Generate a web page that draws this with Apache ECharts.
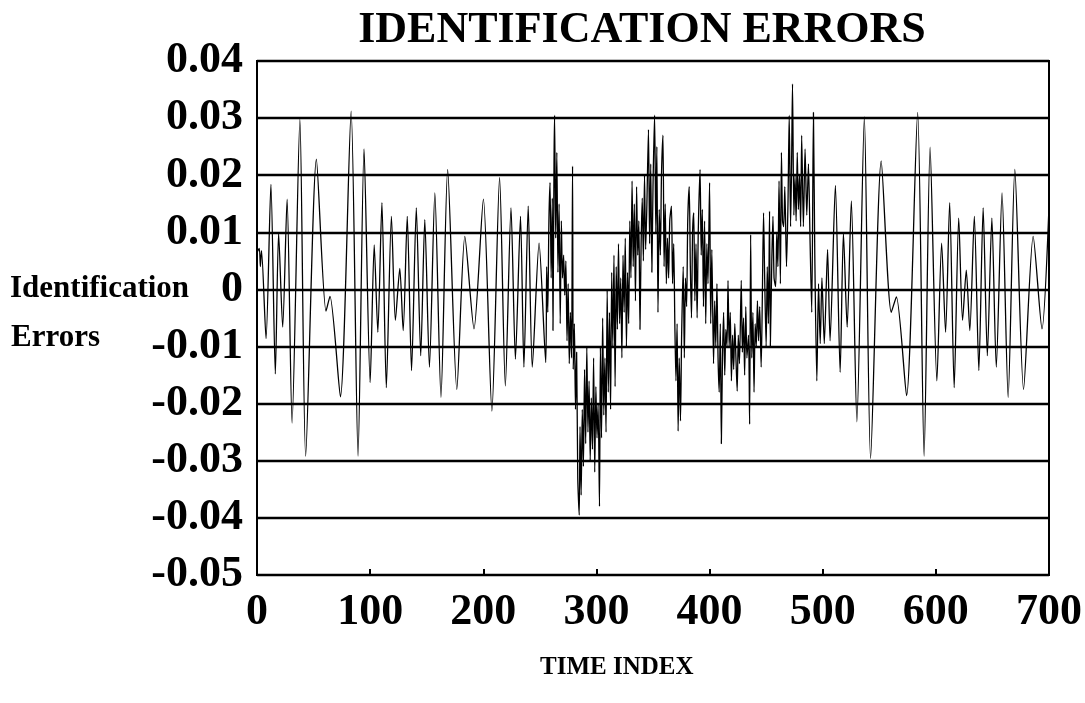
<!DOCTYPE html>
<html>
<head>
<meta charset="utf-8">
<script src="https://cdn.jsdelivr.net/npm/echarts@6/dist/echarts.min.js"></script>
<style>
  html, body { margin: 0; padding: 0; background: #fff; }
  #chart { width: 1085px; height: 703px; }
</style>
</head>
<body>
<div id="chart"></div>
<script>
// Time index of each sample (peaks, troughs and turning points of the error trace)
const timeIndex = [
  0, 2, 3, 4, 8, 12.3, 16.2, 19.1, 22.7, 26.6, 31, 37.9, 43, 52.5, 61, 64.5, 73.7, 83.2, 89.3, 94.6,
  100, 103.6, 106.8, 110.4, 114.3, 118.8, 122.3, 126.2, 129.2, 132.8, 136.6, 140.8, 144.7, 148.3, 152.4, 157.2, 162.6, 168.5, 176.6, 183.7,
  191.8, 200.1, 207.6, 214.4, 219.5, 224.5, 228.4, 232.9, 235.9, 239.7, 243.3, 249.3, 255.2,
  256, 257, 258, 259, 260, 261, 261.6, 262.5, 263, 264, 265, 266, 267, 268, 269, 270, 271, 272, 273, 274, 275, 276, 277, 278, 278.9, 279.5,
  280.5, 281.5, 282.5, 283.5, 284.8, 285.5, 286.5, 287.5, 288.5, 289.5, 290.5, 291.5, 292.5, 293.5, 294.5, 295.5, 296.5, 297.5, 298.5, 299.5,
  300.5, 301.5, 302.7, 303.5, 304.5, 305.5, 306.5, 307.5, 308.5, 309.5, 310.5, 311.5, 312.5, 313.5, 314.5, 315.5, 316.5, 317.5, 318.5, 319.5,
  320.5, 321.5, 322.5, 323.5, 324.5, 325.5, 326.5, 327.5, 328.5, 329.5, 330.5, 331.5, 332.5, 333.5, 334.5, 335.5, 336.5, 337.5, 338.5, 339.5,
  340.5, 341.5, 342.5, 343.5, 344.5, 346, 347, 348, 349, 350, 351.4, 352.5, 353.4, 354.4, 355.5, 356.5, 357.5, 358.8, 359.8, 360.8,
  361.8, 362.8, 363.8, 364.8, 366.3, 367.3, 368.3, 369.3, 370.3, 371.3, 372.2, 373.2, 374.3, 375.3, 376.7, 377.7, 378.7, 379.7, 380.7, 382,
  383, 384, 385, 386, 387, 388, 389, 390, 391.6, 392.6, 393.6, 394.6, 395.6, 396.6, 397.6, 398.6, 400, 401, 402, 403.5,
  404.5, 405.5, 406.5, 407.5, 408.5, 409.5, 410.4, 411.4, 412.4, 413.4, 414.4, 415.4, 416.3, 417.3, 418.3, 419.3, 420.3, 421.3, 422.3, 423.3,
  424.4, 425.4, 426.4, 428, 429, 430, 431, 432, 433, 434.4, 435.4, 436.3, 437.3, 438.3, 439.3, 440.3, 441.3, 442.3, 443.3, 444.3,
  445.6, 446.6, 447.7, 448.7, 450, 451, 452, 453, 453.7, 455, 456, 457, 458.4, 459.4, 460.4, 461.4, 462.6, 463.5, 464.5, 465.5,
  466.5, 468, 469.3, 470.4, 471.6, 472.5, 473.3, 474.5, 475.5, 476.5, 477.5, 478.5, 479.5, 480.5, 481.4, 482.9, 484.4, 485.9, 487.4, 488.8,
  490.3, 491.8, 493, 494.8, 496.3, 497.8, 499.3, 501.4, 504.3, 506.5, 511.2, 515.4, 518.3, 521.6, 525.3, 530.2, 536.8, 542.3, 551.7, 560.6,
  565.1, 574.1, 583.9, 589.6, 594.9, 600.9, 605.1, 608.6, 612.2, 616.2, 620.2, 623.6, 626.9, 630, 634, 638, 641.8, 645.5, 649.5, 653.4,
  658.5, 663.9, 669.8, 677.5, 686, 693.8, 700
];

// Identification error at each time index above
const errorValue = [
  0.0065, 0.0072, 0.004, 0.0068, -0.0086, 0.0184, -0.0148, 0.0099, -0.0066, 0.0158, -0.0234, 0.0298, -0.0292, 0.0228, -0.0038, -0.0012, -0.0188, 0.0312, -0.0292, 0.0246,
  -0.0163, 0.0078, -0.0075, 0.0152, -0.0172, 0.0128, -0.0054, 0.0037, -0.0072, 0.0128, -0.0142, 0.0143, -0.0116, 0.0122, -0.0136, 0.0169, -0.0189, 0.021, -0.0175, 0.0093,
  -0.0069, 0.0158, -0.0213, 0.0196, -0.0169, 0.0143, -0.0122, 0.0128, -0.0136, 0.0146, -0.0136, 0.0081, -0.0128,
  0.004, -0.004, 0.012, 0.0187, 0.002, 0.016, -0.0072, 0.022, 0.0305, 0.009, 0.024, 0.003, 0.015, -0.006, 0.012, 0.002, 0.006, -0.001, 0.005, -0.009, 0.001, -0.013, -0.004, -0.012, 0.0216, -0.014,
  -0.006, -0.021, -0.011, -0.033, -0.0395, -0.024, -0.036, -0.021, -0.031, -0.014, -0.027, -0.01, -0.025, -0.016, -0.03, -0.019, -0.028, -0.012, -0.032, -0.017,
  -0.026, -0.02, -0.038, -0.01, -0.026, -0.005, -0.022, -0.012, -0.025, 0.0, -0.018, -0.004, -0.021, 0.003, -0.01, 0.006, -0.017, 0.004, -0.007, 0.008,
  -0.006, 0.002, -0.012, 0.006, -0.004, 0.009, -0.01, 0.003, -0.006, 0.012, 0.002, 0.019, 0.004, 0.015, -0.002, 0.018, 0.006, 0.012, -0.007, 0.008,
  0.016, 0.005, 0.02, 0.007, 0.014, 0.028, 0.008, 0.022, 0.003, 0.018, 0.0305, 0.01, 0.025, -0.004, 0.014, 0.006, 0.02, 0.027, 0.004, 0.015,
  0.001, 0.009, 0.002, 0.012, 0.0146, 0.001, 0.008, -0.006, -0.016, -0.006, -0.0248, -0.012, -0.023, -0.008, 0.004, -0.012, 0.002, -0.003, 0.012, 0.018,
  0.004, -0.005, 0.01, 0.0134, -0.002, 0.008, -0.005, 0.01, 0.021, 0.006, 0.014, -0.003, 0.012, -0.006, 0.008, 0.001, 0.0187, -0.006, 0.007, -0.013,
  -0.002, -0.01, 0.001, -0.012, -0.018, -0.006, -0.027, -0.012, -0.004, -0.015, -0.007, -0.01, 0.0016, -0.01, -0.004, -0.016, -0.008, -0.014, -0.006, -0.012,
  -0.0178, -0.008, -0.013, 0.0016, -0.011, -0.005, -0.015, -0.003, -0.012, -0.008, -0.0236, 0.0096, -0.012, -0.004, -0.018, -0.006, -0.01, -0.002, -0.009, -0.003,
  -0.0136, -0.002, 0.0134, 0.002, -0.01, 0.004, -0.006, 0.0137, -0.01, 0.005, 0.0128, 0.002, 0.0005, 0.01, 0.004, 0.019, 0.001, 0.024, 0.012, 0.011,
  0.018, 0.004, 0.015, 0.0305, 0.011, 0.022, 0.036, 0.013, 0.02, 0.012, 0.024, 0.014, 0.02, 0.011, 0.027, 0.011, 0.0246, 0.013, 0.022, 0.0087,
  -0.004, 0.031, 0.006, -0.016, 0.001, -0.0095, 0.002, -0.0095, 0.007, -0.009, 0.0182, -0.0145, 0.0099, -0.0066, 0.0155, -0.0232, 0.0302, -0.0296, 0.0225, -0.004,
  -0.0013, -0.0186, 0.031, -0.0292, 0.0249, -0.016, 0.0081, -0.0075, 0.0152, -0.0172, 0.0125, -0.0054, 0.0034, -0.0072, 0.0128, -0.0142, 0.0143, -0.0116, 0.0125, -0.0136,
  0.0169, -0.0189, 0.021, -0.0175, 0.0093, -0.0069, 0.0145
];

const xTickLabels = ['0', '100', '200', '300', '400', '500', '600', '700'];
const yTickLabels = ['-0.05', '-0.04', '-0.03', '-0.02', '-0.01', '0', '0.01', '0.02', '0.03', '0.04'];

const serif = "'Liberation Serif', 'Times New Roman', 'DejaVu Serif', serif";
const chart = echarts.init(document.getElementById('chart'), null, { renderer: 'canvas' });

const points = timeIndex.map((t, i) => [t, errorValue[i]]);

chart.setOption({
  backgroundColor: '#ffffff',
  animation: false,
  title: {
    text: 'IDENTIFICATION ERRORS',
    left: 637,
    textAlign: 'center',
    top: 4,
    textStyle: { fontFamily: serif, fontWeight: 'bold', fontSize: 44, color: '#000' }
  },
  grid: {
    left: 257, right: 34, top: 61, bottom: 128,
    show: true, borderColor: '#000', borderWidth: 2, backgroundColor: 'transparent'
  },
  xAxis: {
    type: 'value', min: 0, max: 700, interval: 100,
    axisLine: { show: true, onZero: false, lineStyle: { color: '#000', width: 2 } },
    axisTick: { show: true, inside: true, length: 6, lineStyle: { color: '#000', width: 2 } },
    splitLine: { show: false },
    axisLabel: {
      margin: 16, color: '#000', fontFamily: serif, fontWeight: 'bold', fontSize: 44,
      formatter: v => xTickLabels[Math.round(v / 100)]
    }
  },
  yAxis: {
    type: 'value', min: -0.05, max: 0.04, interval: 0.01,
    axisLine: { show: true, lineStyle: { color: '#000', width: 2 } },
    axisTick: { show: false },
    splitLine: { show: true, lineStyle: { color: '#000', width: 2.4 } },
    axisLabel: {
      margin: 14, color: '#000', fontFamily: serif, fontWeight: 'bold', fontSize: 44,
      formatter: v => yTickLabels[Math.round((v + 0.05) / 0.01)]
    }
  },
  graphic: [
    { type: 'text', left: 10, top: 273,
      style: { text: 'Identification', font: "bold 31px " + serif, fill: '#000' } },
    { type: 'text', left: 11, top: 322,
      style: { text: 'Errors', font: "bold 31px " + serif, fill: '#000' } },
    { type: 'text', left: 540, top: 655,
      style: { text: 'TIME INDEX', font: "bold 25px " + serif, fill: '#000' } }
  ],
  series: [{
    type: 'line',
    data: points,
    showSymbol: false,
    smooth: 0.25,
    lineStyle: { color: '#000', width: 1.3 },
    z: 1
  }]
});
</script>
</body>
</html>
